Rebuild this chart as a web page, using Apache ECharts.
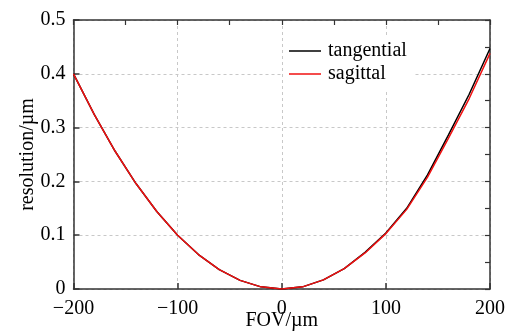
<!DOCTYPE html>
<html>
<head>
<meta charset="utf-8">
<script src="https://cdn.jsdelivr.net/npm/echarts@6/dist/echarts.min.js"></script>
<style>
html,body{margin:0;padding:0;background:#fff;}
#chart{width:508px;height:335px;}
</style>
</head>
<body>
<div id="chart"></div>
<script>
var fov = [-200,-180,-160,-140,-120,-100,-80,-60,-40,-20,0,20,40,60,80,100,120,140,160,180,200];
var tangential = [0.400,0.324,0.256,0.196,0.144,0.100,0.064,0.036,0.016,0.004,0.000,0.004,0.017,0.038,0.068,0.104,0.150,0.212,0.286,0.362,0.447];
var sagittal   = [0.400,0.324,0.256,0.196,0.144,0.100,0.064,0.036,0.016,0.004,0.000,0.004,0.017,0.038,0.067,0.103,0.148,0.208,0.280,0.354,0.438];
var seriesNames = ['tangential','sagittal'];
var xTicks = {min:-200, max:200, step:100};
var yTicks = {min:0, max:0.5, step:0.1};

var FONT = 'Liberation Serif';
function pairs(xs, ys){ return xs.map(function(x,i){ return [x, ys[i]]; }); }
var axisLine = {show:true, onZero:false, lineStyle:{color:'#333', width:1.5}};

var chart = echarts.init(document.getElementById('chart'), null, {renderer:'canvas'});
chart.setOption({
  animation:false,
  backgroundColor:'#fff',
  grid:{left:73.5, right:18, top:20, bottom:46, containLabel:false, outerBoundsMode:'none'},
  legend:{
    data:seriesNames.map(function(n){return {name:n, icon:'rect'};}),
    orient:'vertical', left:283, top:35,
    itemWidth:32, itemHeight:1.5, itemGap:3,
    backgroundColor:'#fff', padding:[6,8,6,6],
    textStyle:{fontFamily:FONT, fontSize:20, color:'#000', padding:[0,0,0,2]}
  },
  xAxis:[{
    type:'value', min:xTicks.min, max:xTicks.max, interval:xTicks.step,
    position:'bottom',
    name:'FOV/µm', nameLocation:'middle', nameGap:22, nameMoveOverlap:false,
    nameTextStyle:{fontFamily:FONT, fontSize:20, color:'#000'},
    axisLine:axisLine,
    axisTick:{show:true, inside:true, length:6, lineStyle:{color:'#333', width:1.5}},
    axisLabel:{fontFamily:FONT, fontSize:20, color:'#000', margin:10,
      formatter:function(v){ return String(v).replace('-', '\u2212'); }},
    splitLine:{show:true, lineStyle:{color:'#c8c8c8', type:[3,3], width:1}}
  },{
    type:'value', min:xTicks.min, max:xTicks.max, interval:xTicks.step/2,
    position:'top',
    axisLine:axisLine,
    axisTick:{show:true, inside:true, length:5, lineStyle:{color:'#333', width:1.2}},
    axisLabel:{show:false}, splitLine:{show:false}
  }],
  yAxis:[{
    type:'value', min:yTicks.min, max:yTicks.max, interval:yTicks.step,
    position:'left',
    name:'resolution/µm', nameLocation:'middle', nameGap:36, nameRotate:90, nameMoveOverlap:false,
    nameTextStyle:{fontFamily:FONT, fontSize:20, color:'#000'},
    axisLine:axisLine,
    axisTick:{show:true, inside:true, length:6, lineStyle:{color:'#333', width:1.5}},
    axisLabel:{fontFamily:FONT, fontSize:20, color:'#000', margin:8,
      formatter:function(v){ return String(Math.round(v*10)/10); }},
    splitLine:{show:true, lineStyle:{color:'#c8c8c8', type:[3,3], width:1}}
  },{
    type:'value', min:yTicks.min, max:yTicks.max, interval:yTicks.step/2,
    position:'right',
    axisLine:axisLine,
    axisTick:{show:true, inside:true, length:5, lineStyle:{color:'#333', width:1.2}},
    axisLabel:{show:false}, splitLine:{show:false}
  }],
  series:[{
    name:seriesNames[0], type:'line', xAxisIndex:0, yAxisIndex:0,
    data:pairs(fov, tangential), symbol:'none', color:'#000',
    lineStyle:{color:'#000', width:1.5}
  },{
    name:seriesNames[1], type:'line', xAxisIndex:0, yAxisIndex:0,
    data:pairs(fov, sagittal), symbol:'none', color:'#f01010',
    lineStyle:{color:'#f01010', width:1.5}
  }]
});
</script>
</body>
</html>
